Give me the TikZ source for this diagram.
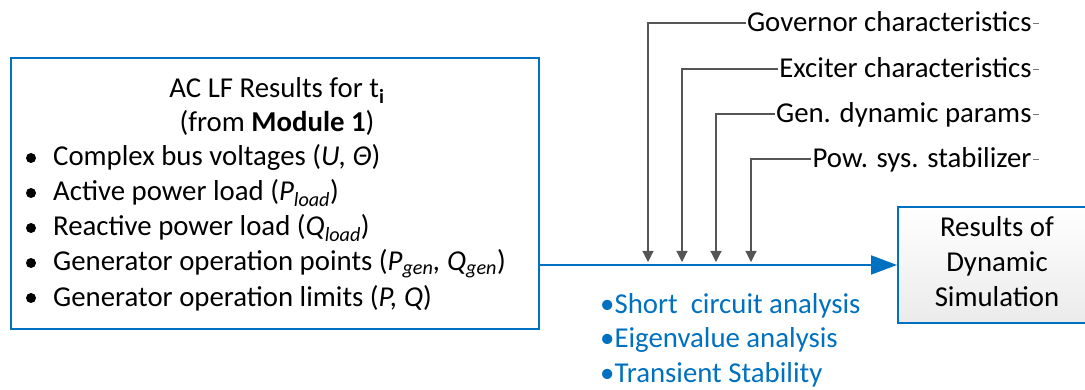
\documentclass[tikz,border=0pt]{standalone}
\usepackage{fontspec}
\setmainfont{Carlito}
\usetikzlibrary{arrows.meta}
\definecolor{flowblue}{HTML}{0070C0}
\definecolor{feedgray}{HTML}{555555}
\begin{document}
\begin{tikzpicture}[x=1pt,y=-1pt,
  font=\fontsize{28.8}{34}\selectfont,
  bluebox/.style={draw=flowblue, line width=2pt, inner sep=0pt},
  line/.style={inner sep=0pt, anchor=base west},
  dot/.style={circle, fill=black, inner sep=0pt, minimum size=10pt},
  label/.style={inner sep=0pt, outer sep=1.5pt, anchor=east, text height=18pt, text depth=0pt},
  feed/.style={draw=feedgray, line width=1.1pt, -{Triangle[length=11pt,width=11pt]}},
  stub/.style={draw=feedgray!80, line width=0.9pt},
  flow/.style={draw=flowblue, line width=2pt, -{Triangle[length=26pt,width=19pt]}},
  blueline/.style={inner sep=0pt, anchor=base west, text=flowblue},
]
\useasboundingbox (0,0) rectangle (1085,390);

% load-flow results box
\node[bluebox, minimum width=528pt, minimum height=271pt, anchor=north west] (lf) at (10,57) {};
\node[inner sep=0pt, anchor=base] (t1) at (277,98) {AC LF Results for t\textsubscript{\textbf{i}}};
\node[inner sep=0pt, anchor=base] (t2) at (277,132) {(from \textbf{Module 1})};
\foreach \y/\txt [count=\k] in {
  166/{Complex bus voltages (\textit{U, Θ})},
  201/{Active power load (\textit{P\textsubscript{load}})},
  236/{Reactive power load (\textit{Q\textsubscript{load}})},
  271/{Generator operation points (\textit{P\textsubscript{gen}, Q\textsubscript{gen}})},
  306/{Generator operation limits (\textit{P, Q})}} {
  \node[dot] (b\k) at (31,\y-8) {};
  \node[line] (i\k) at (53,\y) {\txt};
}

% results box
\node[bluebox, shading=axis, top color=white, bottom color=black!8,
      minimum width=198pt, minimum height=116pt, anchor=north west] (res) at (897,206) {};
\node[inner sep=0pt, anchor=base] (r1) at (997,237) {Results of};
\node[inner sep=0pt, anchor=base] (r2) at (997,272) {Dynamic};
\node[inner sep=0pt, anchor=base] (r3) at (997,307) {Simulation};

% main flow
\draw[flow] (lf.east |- res.west) -- (res.west);

% dynamic model inputs
\node[label] (gov) at (1033,23)  {Governor characteristics};
\node[label] (exc) at (1033,69)  {Exciter characteristics};
\node[label] (gen) at (1033,114) {Gen. dynamic params};
\node[label] (pss) at (1033,159) {Pow. sys. stabilizer};
\coordinate (in1) at (648,262);
\coordinate (in2) at (682,262);
\coordinate (in3) at (716,262);
\coordinate (in4) at (751,262);
\foreach \n/\c in {gov/in1, exc/in2, gen/in3, pss/in4} {
  \draw[feed] (\n.west) -| (\c);
  \draw[stub] (\n.east) -- ++(6,0);
}

% analysis types
\node[blueline] (a1) at (600,313) {•Short\ \ circuit analysis};
\node[blueline] (a2) at (600,347) {•Eigenvalue analysis};
\node[blueline] (a3) at (600,382) {•Transient Stability};
\end{tikzpicture}
\end{document}
